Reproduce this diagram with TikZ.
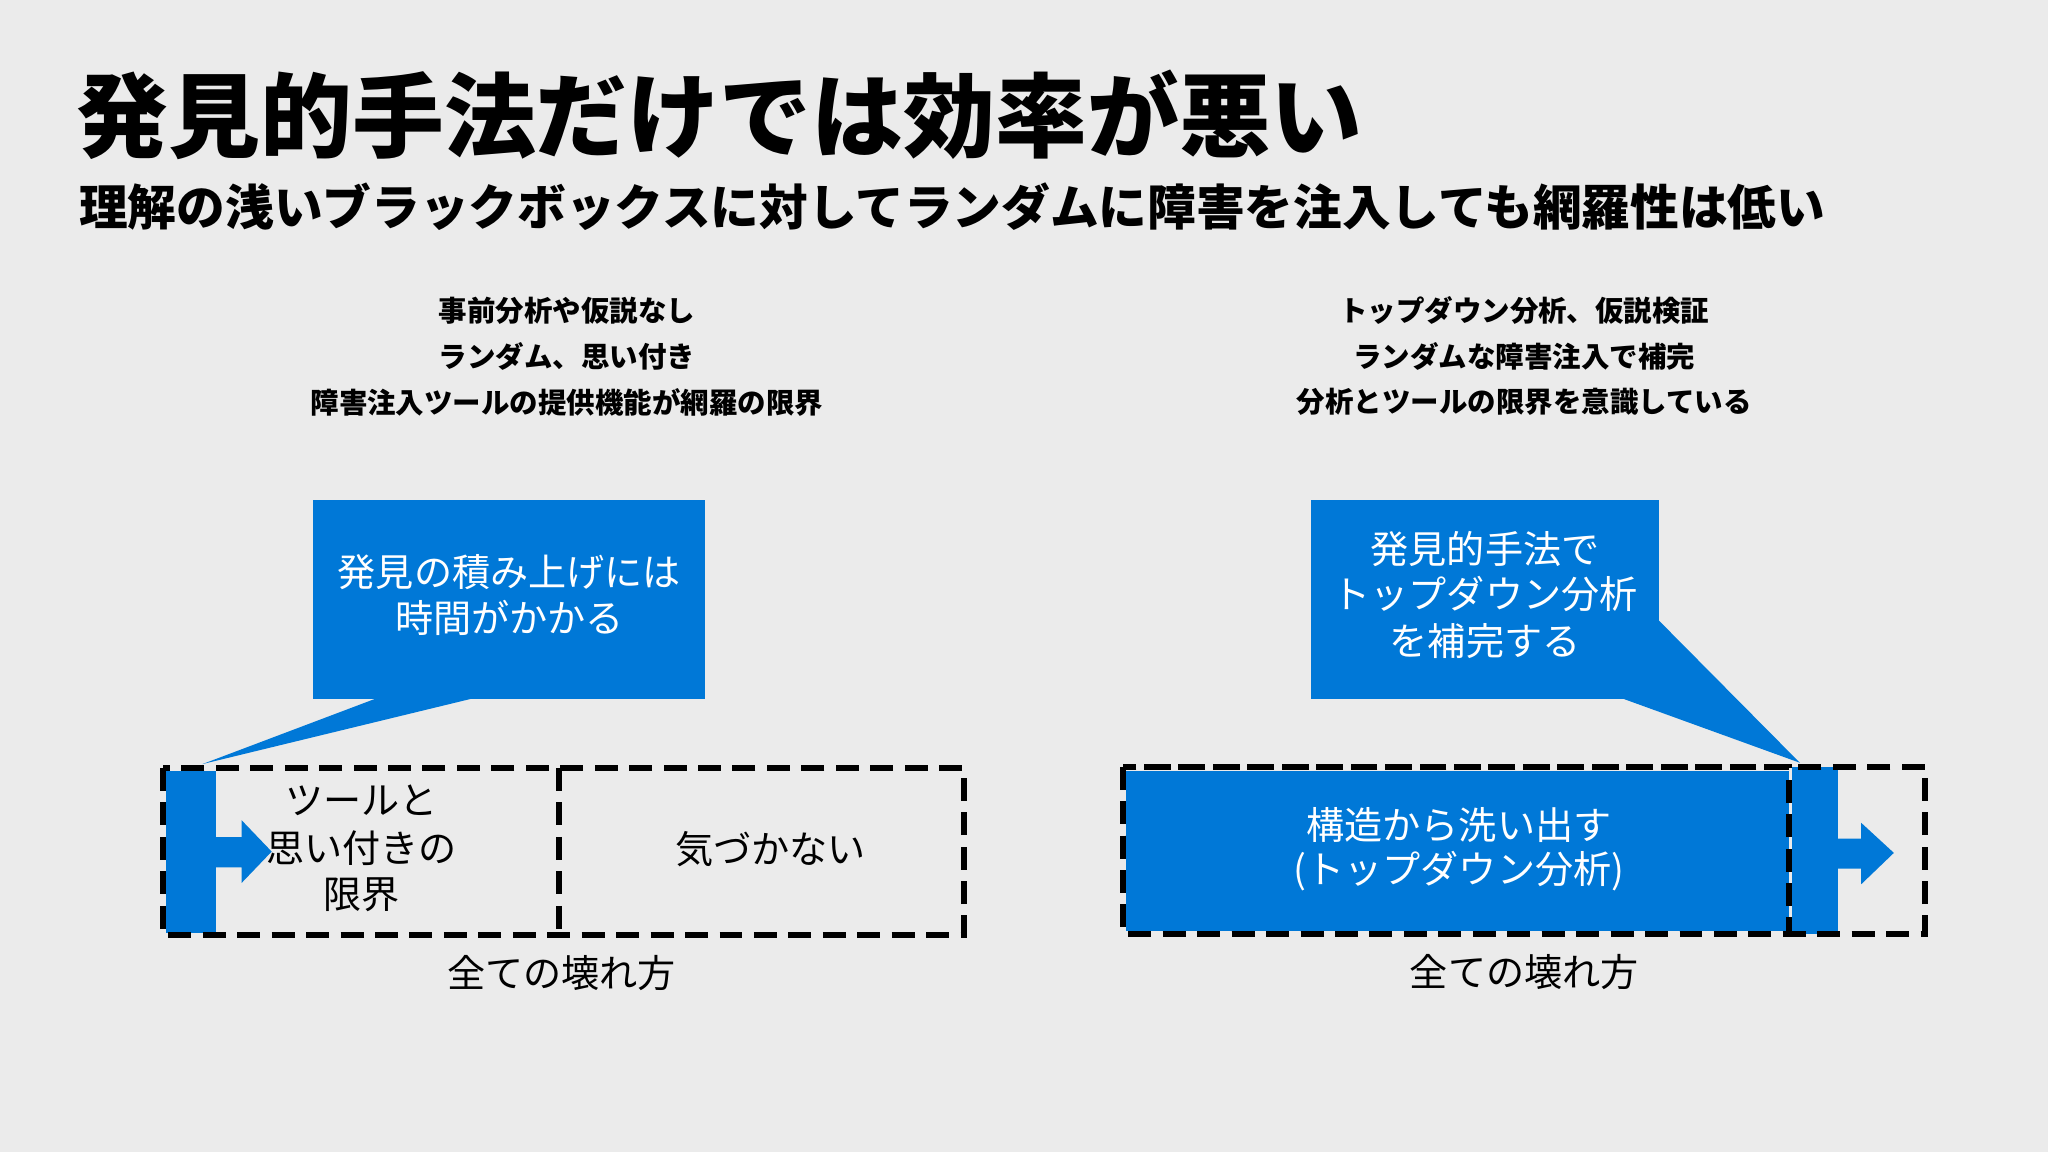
\documentclass[tikz,border=0pt]{standalone}
\usepackage{fontspec}
\setmainfont{Noto Sans CJK JP}
\definecolor{bg}{HTML}{EBEBEB}
\definecolor{msblue}{HTML}{0078D7}
\begin{document}
\begin{tikzpicture}[x=0.01cm,y=-0.01cm,
  dbox/.style={draw=black,line width=1.3pt,dash pattern=on 5pt off 2.5pt},
  txt/.style={align=center,inner sep=0pt,font=\fontsize{8.3pt}{10pt}\selectfont},
  head/.style={align=center,inner sep=0pt,font=\bfseries\fontsize{6.2pt}{10pt}\selectfont},
  wtxt/.style={txt,text=white}]
\fill[bg] (0,0) rectangle (1568,882);
\node[anchor=west,inner sep=0pt,font=\bfseries\fontsize{20pt}{24pt}\selectfont] (title) at (58,88) {発見的手法だけでは効率が悪い};
\node[anchor=west,inner sep=0pt,font=\bfseries\fontsize{10.6pt}{12pt}\selectfont] (sub) at (60,158) {理解の浅いブラックボックスに対してランダムに障害を注入しても網羅性は低い};
% headings
\node[head] (hl1) at (434,238) {事前分析や仮説なし};
\node[head] (hl2) at (434,273) {ランダム、思い付き};
\node[head] (hl3) at (434,308) {障害注入ツールの提供機能が網羅の限界};
\node[head] (hr1) at (1167,238) {トップダウン分析、仮説検証};
\node[head] (hr2) at (1167,273) {ランダムな障害注入で補完};
\node[head] (hr3) at (1167,308) {分析とツールの限界を意識している};
% left callout
\coordinate (ltip) at (155,585);
\fill[msblue] (240,383) rectangle (540,535);
\fill[msblue] (290,534) -- (365,534) -- (ltip) -- cycle;
\node[wtxt] (lc1) at (390,438) {発見の積み上げには};
\node[wtxt] (lc2) at (390,473) {時間がかかる};
% left box
\fill[msblue] (127,590) rectangle (165,714);
\fill[msblue] (165,641) -- (185,641) -- (185,628) -- (208,652) -- (185,676) -- (185,664) -- (165,664) -- cycle;
\draw[dbox] (125,588) rectangle (738,716);
\draw[dbox] (428,588) -- (428,716);
\node[txt] (lt1) at (277,613) {ツールと};
\node[txt] (lt2) at (277,649) {思い付きの};
\node[txt] (lt3) at (277,685) {限界};
\node[txt] (lt4) at (590,650) {気づかない};
\node[txt] (lt5) at (430,745) {全ての壊れ方};
% right callout
\coordinate (rtip) at (1378,584);
\fill[msblue] (1004,383) rectangle (1270,535);
\fill[msblue] (1269,474) -- (rtip) -- (1240,534) -- (1269,534) -- cycle;
\node[wtxt] (rc1) at (1137,420) {発見的手法で};
\node[wtxt] (rc2) at (1137,455) {トップダウン分析};
\node[wtxt] (rc3) at (1137,491) {を補完する};
% right box
\fill[msblue] (862,590) rectangle (1370,713);
\fill[msblue] (1372,587) rectangle (1407,715);
\fill[msblue] (1407,642) -- (1425,642) -- (1425,630) -- (1450,653) -- (1425,677) -- (1425,665) -- (1407,665) -- cycle;
\draw[dbox] (860,587) rectangle (1474,715);
\draw[dbox] (860,587) rectangle (1370,715);
\node[wtxt] (rt1) at (1117,632) {構造から洗い出す};
\node[wtxt] (rt2) at (1117,667) {(トップダウン分析)};
\node[txt] (rt3) at (1167,744) {全ての壊れ方};
\end{tikzpicture}
\end{document}
